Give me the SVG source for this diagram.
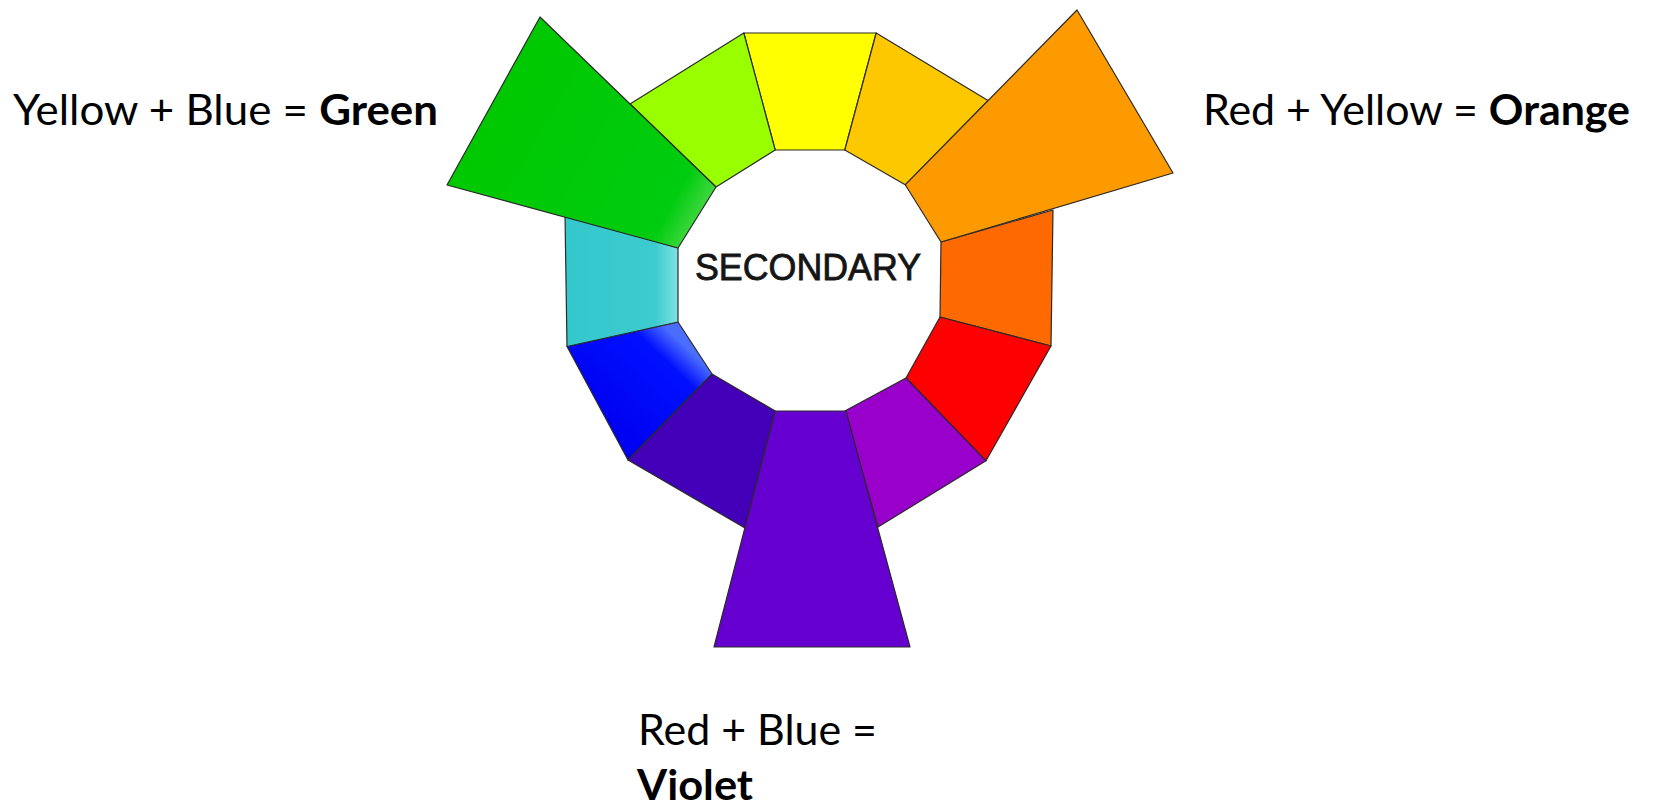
<svg xmlns="http://www.w3.org/2000/svg" width="1656" height="806" viewBox="0 0 1656 806">
<style>
.seg{stroke:#2a2a2a;stroke-width:1.2;stroke-linejoin:round}
.lbl{font-family:Lato,"Open Sans","Liberation Sans",sans-serif;font-size:42px;fill:#000}
.b{font-weight:bold}
.ctr{font-family:"Liberation Sans",Arial,sans-serif;font-size:36px;fill:#151515;stroke:#151515;stroke-width:0.8}
</style>
<defs>
<linearGradient id="gCyan" x1="0" y1="0" x2="1" y2="0">
<stop offset="0" stop-color="#33c8cc"/><stop offset="0.8" stop-color="#3ccccf"/><stop offset="1" stop-color="#80e2e4"/>
</linearGradient>
<linearGradient id="gBlue" x1="630" y1="458" x2="712" y2="372" gradientUnits="userSpaceOnUse">
<stop offset="0" stop-color="#0000f0"/><stop offset="0.8" stop-color="#0010ff"/><stop offset="1" stop-color="#4a6cff"/>
</linearGradient>
<linearGradient id="gGreen" x1="494" y1="101" x2="697" y2="216" gradientUnits="userSpaceOnUse">
<stop offset="0" stop-color="#00c800"/><stop offset="0.88" stop-color="#00cc10"/><stop offset="1" stop-color="#3ad63a"/>
</linearGradient>
</defs>
<rect width="1656" height="806" fill="#fff"/>
<g id="ring">
<g id="seg-yellow"><polygon class="seg" fill="#ffff00" points="743.8,33 876.2,33 844.8,150 775.2,150"/></g>
<g id="seg-gold"><polygon class="seg" fill="#fdc800" points="876.2,33 988,100.6 905.2,184.8 844.8,150"/></g>
<g id="seg-redorange"><polygon class="seg" fill="#ff6a00" points="1053,210 1051,346 940,317 941,242"/></g>
<g id="seg-red"><polygon class="seg" fill="#ff0000" points="1051,346 986,460.8 906,378 940,317"/></g>
<g id="seg-purple"><polygon class="seg" fill="#9a00cc" points="986,460.8 878,527 844.8,411 906,378"/></g>
<g id="seg-indigo"><polygon class="seg" fill="#4300b8" points="775.2,411 745,528 628,460 712,374"/></g>
<g id="seg-blue"><polygon class="seg" fill="url(#gBlue)" points="712,374 628,460 567,346.5 678,322"/></g>
<g id="seg-cyan"><polygon class="seg" fill="url(#gCyan)" points="678,322 567,346.5 565,214 678,248"/></g>
<g id="seg-yellowgreen"><polygon class="seg" fill="#99ff00" points="630,103.9 743.8,33 775.2,150 716,187"/></g>
<g id="seg-green"><polygon class="seg" fill="url(#gGreen)" points="540,17 716,187 678,248 447,185"/></g>
<g id="seg-orange"><polygon class="seg" fill="#fd9a00" points="1077,10 1173,173 941,242 905.2,184.8"/></g>
<g id="seg-violet"><polygon class="seg" fill="#6500d0" points="775.2,411 846,411 910,647 714,647"/></g>
</g>
<g id="center-label"><text class="ctr" x="808" y="280" text-anchor="middle" textLength="226" lengthAdjust="spacingAndGlyphs">SECONDARY</text></g>
<g id="label-green"><text class="lbl" x="13" y="125" textLength="425" lengthAdjust="spacingAndGlyphs">Yellow + Blue = <tspan class="b">Green</tspan></text></g>
<g id="label-orange"><text class="lbl" x="1203" y="125" textLength="427" lengthAdjust="spacingAndGlyphs">Red + Yellow = <tspan class="b">Orange</tspan></text></g>
<g id="label-violet">
<text class="lbl" x="638" y="745" textLength="239" lengthAdjust="spacingAndGlyphs">Red + Blue =</text>
<text class="lbl b" x="637" y="800" textLength="116" lengthAdjust="spacingAndGlyphs">Violet</text>
</g>
</svg>
